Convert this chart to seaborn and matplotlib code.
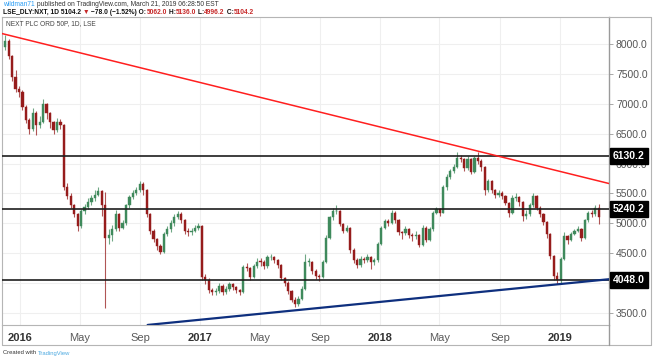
import numpy as np
import pandas as pd
import matplotlib
matplotlib.use("Agg")
import matplotlib.pyplot as plt
import matplotlib.transforms as mtransforms
from matplotlib.lines import Line2D
from matplotlib.offsetbox import TextArea, HPacker, AnnotationBbox
import seaborn as sns

# weekly candles (NEXT PLC, LSE)
week_start = "2015-11-30"
first_open = 7950
closes = [8050, 7800, 7450, 7250, 7200, 6950, 6730, 6580, 6850, 6650,
          6700, 7000, 6850, 6700, 6560, 6700, 6640, 5600, 5450, 5300,
          5150, 4950, 5200, 5280, 5360, 5420, 5480, 5540, 5300, 4750,
          4800, 4900, 5150, 4930, 5000, 5300, 5440, 5510, 5560, 5650,
          5560, 5150, 4870, 4730, 4620, 4520, 4820, 4900, 5000, 5110,
          5150, 5050, 4870, 4850, 4880, 4920, 4960, 4100, 4050, 3880,
          3850, 3860, 3950, 3850, 3900, 3980, 3930, 3880, 3850, 4270,
          4250, 4100, 4280, 4360, 4350, 4280, 4430, 4440, 4380, 4300,
          4090, 4010, 3870, 3720, 3650, 3740, 3900, 4350, 4350, 4200,
          4120, 4100, 4350, 4760, 5100, 5200, 5200, 4990, 4880, 4920,
          4550, 4390, 4300, 4400, 4380, 4430, 4350, 4380, 4650, 4930,
          5040, 5010, 5180, 5050, 4850, 4830, 4900, 4810, 4780, 4800,
          4640, 4930, 4720, 4900, 5170, 5240, 5180, 5600, 5780, 5870,
          5950, 6100, 6080, 5930, 6080, 5860, 6090, 6050, 5940, 5550,
          5700, 5550, 5480, 5510, 5460, 5340, 5170, 5420, 5440, 5350,
          5120, 5150, 5300, 5450, 5260, 5150, 5020, 4820, 4450, 4120,
          4060, 4400, 4780, 4720, 4820, 4870, 4910, 4760, 5050, 5170,
          5160, 5260, 5104.2]
highs = [8150, 8080, 7820, 7560, 7300, 7230, 6980, 6760, 6930, 6880,
         6800, 7080, 7020, 6870, 6720, 6760, 6740, 6660, 5680, 5500,
         5330, 5180, 5240, 5330, 5420, 5480, 5560, 5600, 5560, 5520,
         4900, 4980, 5220, 5180, 5060, 5330, 5480, 5560, 5600, 5700,
         5690, 5580, 5170, 4900, 4760, 4650, 4860, 4960, 5060, 5150,
         5200, 5190, 5080, 4920, 4930, 4970, 5000, 4980, 4150, 4080,
         3920, 3920, 4000, 3980, 3950, 4020, 4000, 3950, 3900, 4300,
         4330, 4270, 4320, 4420, 4420, 4380, 4470, 4480, 4460, 4400,
         4320, 4110, 4030, 3890, 3760, 3790, 3950, 4480, 4420, 4370,
         4230, 4160, 4390, 4800, 5130, 5250, 5314, 5220, 5010, 4970,
         4940, 4580, 4420, 4450, 4440, 4480, 4460, 4420, 4690, 4960,
         5080, 5070, 5230, 5200, 5070, 4880, 4950, 4930, 4840, 4880,
         4820, 4970, 4950, 4940, 5200, 5280, 5260, 5640, 5820, 5910,
         6000, 6190, 6150, 6100, 6120, 6100, 6130, 6190, 6070, 5960,
         5740, 5720, 5580, 5560, 5540, 5480, 5360, 5480, 5500, 5460,
         5370, 5220, 5340, 5500, 5470, 5290, 5170, 5040, 4840, 4470,
         4180, 4430, 4860, 4800, 4860, 4910, 4950, 4930, 5080, 5210,
         5230, 5300, 5331]
lows = [7900, 7750, 7380, 7200, 7120, 6900, 6680, 6500, 6550, 6480,
        6600, 6680, 6750, 6600, 6500, 6520, 6580, 5550, 5400, 5250,
        5100, 4880, 4930, 5150, 5240, 5300, 5380, 5450, 5130, 3584,
        4650, 4700, 4880, 4880, 4900, 4980, 5260, 5400, 5470, 5520,
        5480, 5100, 4820, 4680, 4560, 4480, 4500, 4780, 4860, 4960,
        5070, 5000, 4820, 4780, 4810, 4850, 4890, 4060, 3990, 3830,
        3800, 3800, 3830, 3800, 3810, 3870, 3880, 3830, 3800, 3840,
        4200, 4050, 4080, 4250, 4290, 4230, 4260, 4380, 4330, 4250,
        4050, 3950, 3820, 3680, 3600, 3620, 3720, 3890, 4280, 4150,
        4070, 4040, 4090, 4340, 4740, 5060, 5150, 4950, 4830, 4850,
        4500, 4340, 4250, 4270, 4330, 4350, 4230, 4300, 4360, 4630,
        4900, 4960, 4990, 5000, 4800, 4740, 4800, 4760, 4700, 4740,
        4600, 4620, 4680, 4700, 4880, 5150, 5120, 5170, 5560, 5740,
        5840, 5930, 6020, 5880, 5900, 5820, 5840, 6000, 5870, 5480,
        5530, 5500, 5430, 5440, 5400, 5300, 5100, 5150, 5380, 5290,
        5040, 5080, 5130, 5280, 5220, 5100, 4980, 4760, 4400, 4060,
        3990, 4000, 4380, 4650, 4700, 4800, 4850, 4700, 4740, 5020,
        5100, 5130, 4996.2]

levels = [6130.2, 5240.2, 4048.0]
resistance_dates = ["2015-11-25", "2019-04-10"]
resistance_prices = [8176, 5666]
support_dates = ["2016-09-16", "2019-04-10"]
support_prices = [3300, 4065]
tick_dates = ["2016-01-01", "2016-05-01", "2016-09-01", "2017-01-01", "2017-05-01",
              "2017-09-01", "2018-01-01", "2018-05-01", "2018-09-01", "2019-01-01"]
tick_labels = ["2016", "May", "Sep", "2017", "May", "Sep", "2018", "May", "Sep", "2019"]
price_ticks = [3500, 4000, 4500, 5000, 5500, 6000, 6500, 7000, 7500, 8000]
hidden_price_labels = [4000]  # covered by the 4048.0 tag in the original

sns.set_theme(style="white")
plt.rcParams['font.family'] = ['Liberation Sans', 'DejaVu Sans']

df = pd.DataFrame({
    "date": pd.date_range(week_start, periods=len(closes), freq="7D"),
    "close": closes, "high": highs, "low": lows,
})
df["open"] = [first_open] + closes[:-1]
df["up"] = df["close"] >= df["open"]

up_col = "#3f8a5c"
down_col = "#961c1c"

W, H = 653, 360
fig = plt.figure(figsize=(W / 100, H / 100), dpi=100)
fig.patch.set_facecolor("white")
ax = fig.add_axes([2 / W, 35 / H, 607 / W, 308 / H])

ax.set_xlim(pd.Timestamp("2015-11-25 12:00"), pd.Timestamp("2019-04-10"))
ax.set_ylim(3299, 8452)

ax.set_yticks(price_ticks)
ax.set_xticks(pd.to_datetime(tick_dates))
ax.grid(True, color="#efefef", lw=0.8)
ax.set_axisbelow(True)

# candles
cols = np.where(df["up"], up_col, down_col)
xpos = df["date"] + pd.Timedelta(days=2)
ax.vlines(xpos, df["low"], df["high"], colors=cols, lw=0.8, alpha=0.75, zorder=2)
body_lo = np.minimum(df["open"], df["close"])
body_h = np.maximum(np.abs(df["close"] - df["open"]), 12)
ax.bar(xpos, body_h, bottom=body_lo, width=4.5,
       color=cols, edgecolor=cols, lw=0.3, zorder=3)

# horizontal levels and trend lines
for lv in levels:
    ax.axhline(lv, color="#1e1e1e", lw=1.2, zorder=4)
sns.lineplot(x=pd.to_datetime(resistance_dates), y=resistance_prices, ax=ax,
             color="#ff1f1f", lw=1.1, zorder=5)
sns.lineplot(x=pd.to_datetime(support_dates), y=support_prices, ax=ax,
             color="#0e2f7e", lw=1.6, zorder=5)

# axes styling
ax.yaxis.tick_right()
ax.set_yticklabels(["" if p in hidden_price_labels else f"{p:.1f}" for p in price_ticks])
ax.tick_params(axis="y", length=3, width=0.6, color="#9a9a9a", pad=2,
               labelsize=7.5, labelcolor="#555555", right=True, left=False)
ax.tick_params(axis="x", length=0, pad=6, labelsize=8)
ax.set_xticklabels(tick_labels)
for lab in ax.get_xticklabels():
    if lab.get_text().isdigit():
        lab.set_fontweight("bold")
        lab.set_color("#333333")
    else:
        lab.set_color("#5a5a5a")
for side in ["left", "top", "bottom"]:
    ax.spines[side].set_color("#b5b5b5")
    ax.spines[side].set_linewidth(0.8)
ax.spines["right"].set_color("#9a9a9a")
ax.spines["right"].set_linewidth(1.0)
ax.set_xlabel("")
ax.set_ylabel("")

# level tags on the price scale
trans = mtransforms.blended_transform_factory(ax.transAxes, ax.transData)
for lv in levels:
    ax.text(1.0 + 4 / 607, lv, f"{lv:.1f}", transform=trans, ha="left", va="center",
            fontsize=7.5, fontweight="bold", color="white", zorder=10, clip_on=False,
            bbox=dict(facecolor="black", edgecolor="black", boxstyle="square,pad=0.28"))

# outer frame of the chart
def fline(x0, y0, x1, y1, c="#b5b5b5", lw=0.8):
    fig.add_artist(Line2D([x0 / W, x1 / W], [1 - y0 / H, 1 - y1 / H], color=c, lw=lw))

fline(2, 345, 651, 345)
fline(651, 17, 651, 345)
fline(609, 17, 651, 17)
fline(609, 325, 609, 345, c="#9a9a9a", lw=1.0)
fline(2, 325, 2, 345)

# header texts, pieces packed side by side
def chain(x, y, parts, size):
    boxes = [TextArea(txt, textprops=dict(fontsize=size, color=col, fontweight=wt))
             for txt, col, wt in parts]
    pack = HPacker(children=boxes, pad=0, sep=0, align="baseline")
    ab = AnnotationBbox(pack, (x / W, 1 - y / H), xycoords="figure fraction",
                        box_alignment=(0, 0.5), frameon=False, pad=0)
    fig.add_artist(ab)

chain(3, 5, [("wildman71", "#2a9df4", "normal"),
             ("\u00a0published on TradingView.com, March 21, 2019 06:28:50 EST", "#333333", "normal")], 4.8)
chain(3, 12.5, [("LSE_DLY:NXT, 1D\u00a05104.2\u00a0", "#111111", "bold"),
                ("▼", "#c62828", "bold"),
                ("\u00a0\u221278.0 (\u22121.52%)\u00a0O:", "#111111", "bold"),
                ("5062.0", "#c62828", "bold"),
                ("\u00a0H:", "#111111", "bold"), ("5136.0", "#c62828", "bold"),
                ("\u00a0L:", "#111111", "bold"), ("4996.2", "#c62828", "bold"),
                ("\u00a0C:", "#111111", "bold"), ("5104.2", "#c62828", "bold")], 4.8)
chain(6, 24, [("NEXT PLC ORD 50P, 1D, LSE", "#444444", "normal")], 4.8)
chain(3, 353, [("Created with\u00a0", "#333333", "normal"),
               ("TradingView", "#4aa8e0", "normal")], 4.2)

fig.savefig("out.png", dpi=100)
